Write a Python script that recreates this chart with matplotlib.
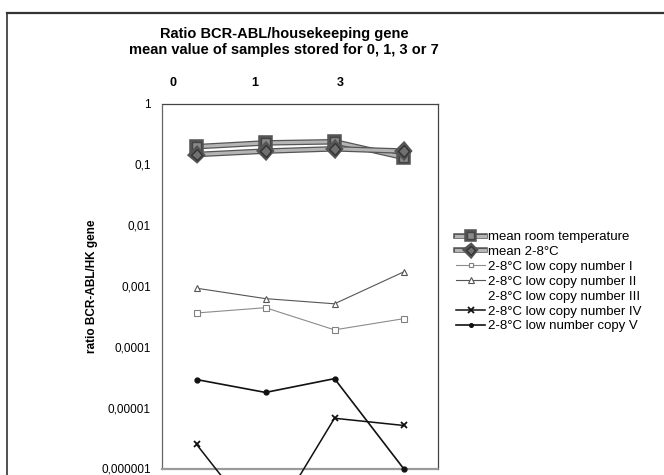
import matplotlib
matplotlib.use("Agg")
import matplotlib.pyplot as plt
import matplotlib.patheffects as pe
from matplotlib.lines import Line2D
import numpy as np

plt.rcParams['font.family'] = ['Liberation Sans', 'DejaVu Sans']

categories = ["0", "1", "3", "7"]
top_labels = ["0", "1", "3"]
room_temp = [0.195, 0.225, 0.235, 0.13]
mean_2_8 = [0.145, 0.165, 0.18, 0.165]
low_copy_I = [0.00036, 0.00044, 0.00019, 0.00029]
low_copy_II = [0.00092, 0.00062, 0.00051, 0.0017]
low_copy_III = [np.nan, np.nan, np.nan, np.nan]
low_copy_IV = [2.5e-6, 9e-8, 6.7e-6, 5.1e-6]
low_copy_V = [2.9e-5, 1.78e-5, 3.0e-5, 1.0e-6]
ytick_vals = [1, 0.1, 0.01, 0.001, 0.0001, 0.00001, 0.000001]
ytick_labels = ["1", "0,1", "0,01", "0,001", "0,0001", "0,00001", "0,000001"]

W, H = 664, 475
fig = plt.figure(figsize=(W / 100, H / 100), dpi=100)
ax = fig.add_axes([162 / W, 1 - 468.5 / H, (438 - 162) / W, (468.5 - 103.5) / H])

x = np.arange(len(categories))

thick = [pe.Stroke(linewidth=4.0, foreground='#555555'), pe.Normal()]
ax.plot(x, room_temp, color='#b5b5b5', lw=2.2, marker='s', ms=6.5,
        mfc='#8a8a8a', mec='#444444', mew=1.0, clip_on=False,
        path_effects=thick, label='mean room temperature', zorder=4)
ax.plot(x, mean_2_8, color='#b5b5b5', lw=2.2, marker='D', ms=6,
        mfc='#707070', mec='#333333', mew=1.0, clip_on=False,
        path_effects=thick, label='mean 2-8°C', zorder=5)
ax.plot(x, low_copy_I, color='#8c8c8c', lw=0.8, marker='s', ms=4,
        mfc='white', mec='#808080', mew=0.8, clip_on=False,
        label='2-8°C low copy number I', zorder=3)
ax.plot(x, low_copy_II, color='#555555', lw=0.8, marker='^', ms=5,
        mfc='white', mec='#555555', mew=0.8, clip_on=False,
        label='2-8°C low copy number II', zorder=3)
ax.plot(x, low_copy_III, color='none', lw=0, marker='none',
        label='2-8°C low copy number III')
ax.plot(x, low_copy_IV, color='#111111', lw=1.1, marker='x', ms=5,
        mec='#111111', mew=1.3, clip_on=False,
        label='2-8°C low copy number IV', zorder=3)
ax.plot(x, low_copy_V, color='#111111', lw=1.2, marker='o', ms=3.5,
        mfc='#111111', mec='#111111', clip_on=False,
        label='2-8°C low number copy V', zorder=3)

ax.set_yscale('log')
ax.set_ylim(1e-6, 1)
ax.set_xlim(-0.5, len(categories) - 0.5)
ax.set_yticks(ytick_vals)
ax.set_yticklabels(ytick_labels, fontsize=8.5)
ax.yaxis.set_minor_locator(matplotlib.ticker.NullLocator())
ax.tick_params(axis='y', length=0, pad=8)
ax.set_xticks([])

for s in ['top', 'right']:
    ax.spines[s].set_color('#444444')
    ax.spines[s].set_linewidth(0.9)
ax.spines['left'].set_color('#666666')
ax.spines['left'].set_linewidth(0.9)
ax.spines['left'].set_linestyle((0, (1, 1)))
ax.spines['bottom'].set_color('#9a9a9a')
ax.spines['bottom'].set_linewidth(1.6)
ax.spines['bottom'].set_linestyle((0, (4, 1)))

ax.set_ylabel('ratio BCR-ABL/HK gene', fontsize=8.5, fontweight='bold', labelpad=2)

# top category labels
for lab, px in zip(top_labels, [173, 255, 340]):
    fig.text(px / W, 1 - 83 / H, lab, ha='center', va='center',
             fontsize=9, fontweight='bold')

fig.text(284 / W, 1 - 42 / H,
         'Ratio BCR-ABL/housekeeping gene\nmean value of samples stored for 0, 1, 3 or 7',
         ha='center', va='center', fontsize=10.5, fontweight='bold', linespacing=1.25)

leg = fig.legend(loc='upper left', bbox_to_anchor=(456 / W, 1 - 231 / H),
                 bbox_transform=fig.transFigure, frameon=False, fontsize=9.5,
                 handlelength=2.2, handletextpad=0.2, labelspacing=0.2,
                 markerscale=0.75, borderaxespad=0, borderpad=0)

# outer frame
fig.add_artist(Line2D([7 / W, 1], [1 - 13 / H, 1 - 13 / H], color='#333333', lw=1.6,
                      transform=fig.transFigure))
fig.add_artist(Line2D([7 / W, 7 / W], [0, 1 - 13 / H], color='#333333', lw=1.2,
                      transform=fig.transFigure))

fig.savefig('out.png', dpi=100)
